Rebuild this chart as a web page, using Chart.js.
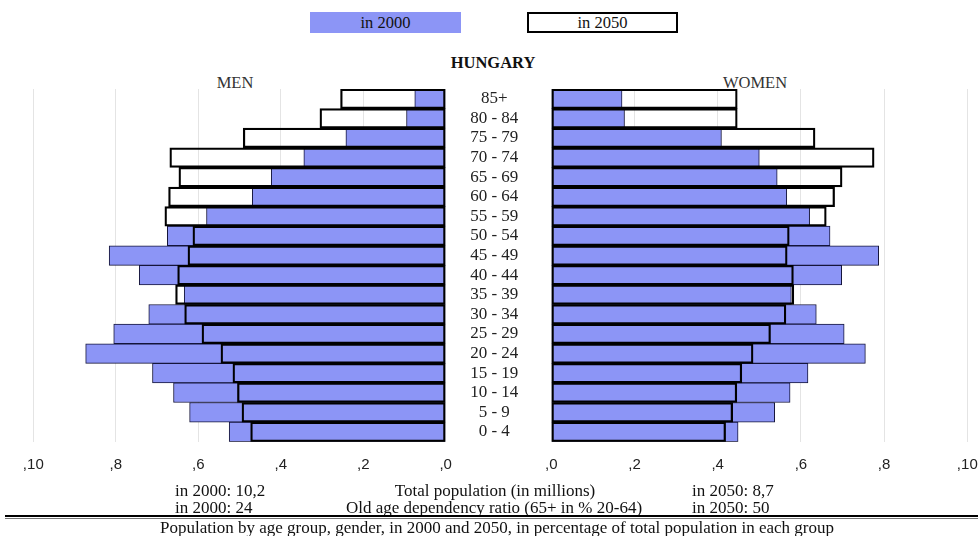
<!DOCTYPE html>
<html>
<head>
<meta charset="utf-8">
<script src="https://cdn.jsdelivr.net/npm/chart.js@4.4.1/dist/chart.umd.min.js"></script>
<style>
  body { margin: 0; background: #fff; }
  #page { position: relative; width: 978px; height: 536px; overflow: hidden; font-family: "Liberation Serif", "Times New Roman", serif; color: #111; }
  .t { position: absolute; white-space: nowrap; font-size: 17px; line-height: 18px; }
  .h { font-size: 16.5px; }
  .c { transform: translateX(-50%); }
  .box { position: absolute; top: 12px; width: 151px; height: 21px; box-sizing: border-box; text-align: center; font-size: 16.5px; line-height: 22px; }
  #leftWrap { position: absolute; left: 0; top: 78px; width: 470px; height: 420px; }
  #rightWrap { position: absolute; left: 460px; top: 78px; width: 518px; height: 420px; }
  .rule { position: absolute; left: 5px; right: 0; top: 515px; height: 2px; background: #000; }
  .rule2 { position: absolute; left: 5px; right: 0; top: 518px; height: 1px; background: #777; }
</style>
</head>
<body>
<div id="page">
  <div class="box" style="left:310px; background:#8c95f6;">in 2000</div>
  <div class="box" style="left:527px; background:#fff; border:2px solid #000; line-height:18px;">in 2050</div>
  <div class="t c h" style="left:493px; top:54px; font-weight:bold;">HUNGARY</div>
  <div class="t c h" style="left:235px; top:74px; color:#333;">MEN</div>
  <div class="t c h" style="left:755px; top:74px; color:#333;">WOMEN</div>

  <div id="leftWrap"><canvas id="men" width="470" height="420"></canvas></div>
  <div id="rightWrap"><canvas id="women" width="518" height="420"></canvas></div>

  <div class="t" style="left:175px; top:482px;">in 2000: 10,2</div>
  <div class="t c" style="left:495px; top:482px;">Total population (in millions)</div>
  <div class="t" style="left:692px; top:482px;">in 2050: 8,7</div>
  <div class="t" style="left:175px; top:499px;">in 2000: 24</div>
  <div class="t c" style="left:494px; top:499px;">Old age dependency ratio (65+ in % 20-64)</div>
  <div class="t" style="left:692px; top:499px;">in 2050: 50</div>
  <div class="rule"></div>
  <div class="rule2"></div>
  <div class="t c" style="left:497px; top:519px;">Population by age group, gender, in 2000 and 2050, in percentage of total population in each group</div>
</div>

<script>
// age groups, top of the pyramid first
const ageGroups = ['85+', '80 - 84', '75 - 79', '70 - 74', '65 - 69', '60 - 64', '55 - 59', '50 - 54', '45 - 49',
                   '40 - 44', '35 - 39', '30 - 34', '25 - 29', '20 - 24', '15 - 19', '10 - 14', '5 - 9', '0 - 4'];

// values
const men2000   = [0.075, 0.095, 0.242, 0.344, 0.423, 0.469, 0.580, 0.675, 0.816, 0.743, 0.634, 0.720, 0.805, 0.873, 0.711, 0.660, 0.621, 0.525];
const men2050   = [0.255, 0.305, 0.491, 0.669, 0.647, 0.672, 0.681, 0.613, 0.625, 0.650, 0.655, 0.633, 0.591, 0.545, 0.516, 0.505, 0.494, 0.473];
const women2000 = [0.170, 0.176, 0.409, 0.500, 0.543, 0.566, 0.621, 0.670, 0.787, 0.698, 0.577, 0.637, 0.704, 0.755, 0.617, 0.574, 0.537, 0.449];
const women2050 = [0.447, 0.447, 0.634, 0.776, 0.699, 0.681, 0.661, 0.572, 0.567, 0.582, 0.583, 0.564, 0.527, 0.485, 0.458, 0.446, 0.436, 0.419];

// tick text as printed on the axis (0 ... 1.0)
const tickLabels = [',0', ',2', ',4', ',6', ',8', ',10'];

const BLUE = '#8c95f6';

function makeDatasets(v2000, v2050) {
    return [
        // 2050 is only an outline, drawn over the 2000 bars
        { label: 'in 2050', data: v2050, backgroundColor: 'rgba(0,0,0,0)', borderColor: '#000',
          borderWidth: 1.6, borderSkipped: false, grouped: false, order: 0,
          barPercentage: 1, categoryPercentage: 1 },
        { label: 'in 2000', data: v2000, backgroundColor: BLUE, borderColor: '#15153a',
          borderWidth: 1, borderSkipped: false, grouped: false, order: 1,
          barPercentage: 1, categoryPercentage: 1 }
    ];
}

function xScale(reverse) {
    return {
        type: 'linear', min: 0, max: 1, reverse: reverse,
        grid: { color: '#e4e4e4', drawTicks: true, tickLength: 14, tickColor: 'rgba(0,0,0,0)' },
        border: { display: false },
        ticks: {
            stepSize: 0.2, padding: 0, color: '#222',
            font: { family: 'Liberation Sans', size: 15 },
            callback: v => tickLabels[Math.round(v * 5)]
        },
        afterFit: s => { s.height = 40; }
    };
}

const common = {
    indexAxis: 'y',
    responsive: false,
    animation: false,
    devicePixelRatio: 1,
    plugins: { legend: { display: false }, tooltip: { enabled: false } }
};

// MEN - bars grow to the left
new Chart(document.getElementById('men'), {
    type: 'bar',
    data: { labels: ageGroups, datasets: makeDatasets(men2000, men2050) },
    options: {
        ...common,
        layout: { padding: { left: 33.3, right: 24.3, top: 11, bottom: 16.3 } },
        scales: {
            x: xScale(true),
            y: { type: 'category', display: false }
        }
    }
});

// WOMEN - the age labels sit on this chart's left axis
new Chart(document.getElementById('women'), {
    type: 'bar',
    data: { labels: ageGroups, datasets: makeDatasets(women2000, women2050) },
    options: {
        ...common,
        layout: { padding: { left: 0, right: 10.7, top: 11, bottom: 16.3 } },
        scales: {
            x: xScale(false),
            y: {
                type: 'category', position: 'left',
                grid: { display: true, drawOnChartArea: false, drawTicks: true, tickLength: 33, tickColor: 'rgba(0,0,0,0)' },
                border: { display: false },
                ticks: {
                    crossAlign: 'center', padding: 0, autoSkip: false, color: '#222',
                    font: { family: 'Liberation Serif', size: 17 }
                },
                afterFit: s => { s.width = 91.3; }
            }
        }
    }
});
</script>
</body>
</html>
